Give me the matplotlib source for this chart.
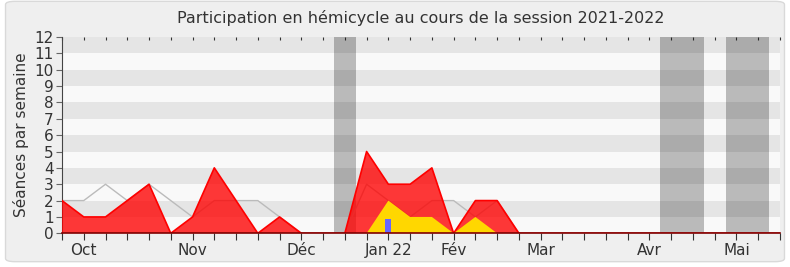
import matplotlib
matplotlib.use("Agg")
import matplotlib.pyplot as plt
import numpy as np
from matplotlib.patches import FancyBboxPatch

# Data (weekly index)
weeks = list(range(0, 34))
red = [2, 1, 1, 2, 3, 0, 1, 4, 2, 0, 1, 0, 0, 0, 5, 3, 3, 4, 0, 2, 2, 0,
       0, 0, 0, 0, 0, 0, 0, 0, 0, 0, 0, 0]
gray = [2, 2, 3, 2, 3, 2, 1, 2, 2, 2, 1, 0, 0, 0, 3, 2, 1, 2, 2, 1, 2, 0,
        0, 0, 0, 0, 0, 0, 0, 0, 0, 0, 0, 0]
yellow = [0, 0, 0, 0, 0, 0, 0, 0, 0, 0, 0, 0, 0, 0, 0, 2, 1, 1, 0, 1, 0, 0,
          0, 0, 0, 0, 0, 0, 0, 0, 0, 0, 0, 0]
blue_weeks = [15]
blue_vals = [0.85]
vacations = [(12.5, 13.5), (27.5, 29.5), (30.5, 32.5)]
month_pos = [1, 6, 11, 15, 18, 22, 27, 31]
month_labels = ["Oct", "Nov", "Déc", "Jan 22", "Fév", "Mar", "Avr", "Mai"]

fig = plt.figure(figsize=(7.9, 2.67), dpi=100)
fig.patch.set_facecolor("white")
bg = FancyBboxPatch((0.007, 0.02), 0.986, 0.975, boxstyle="round,pad=0,rounding_size=0.012",
                    transform=fig.transFigure, facecolor="#efefef", edgecolor="#d9d9d9",
                    linewidth=1, zorder=-10)
fig.patches.append(bg)

ax = fig.add_axes([62 / 790, 1 - 233.3 / 267, (780 - 62) / 790, (233.3 - 37) / 267])
ax.set_facecolor("#f9f9f9")
ax.set_xlim(0, 33)
ax.set_ylim(0, 12)

for i in range(12):
    if i % 2 == 1:
        ax.axhspan(i, i + 1, color="#e5e5e5", zorder=0, linewidth=0)

for a, b in vacations:
    ax.axvspan(a, b, color="black", alpha=0.25, zorder=1, linewidth=0)

ax.plot(weeks, gray, color="#bbbbbb", linewidth=1, zorder=2)
ax.fill_between(weeks, red, 0, facecolor="#ff0000", alpha=0.78, linewidth=0, zorder=3)
ax.plot(weeks, red, color="#ff0000", linewidth=1.2, zorder=4)
ax.fill_between(weeks, yellow, 0, facecolor="#ffd700", linewidth=0, zorder=5)
ax.bar(blue_weeks, blue_vals, width=0.27, color="#6666ff", zorder=6)

for s in ["top", "right"]:
    ax.spines[s].set_visible(False)
ax.spines["left"].set_color("#444444")
ax.spines["bottom"].set_color("#800000")
ax.spines["bottom"].set_linewidth(1.2)
ax.spines["bottom"].set_zorder(7)

ax.set_yticks(range(0, 13))
labels = [""] * 34
for p, l in zip(month_pos, month_labels):
    labels[p] = l
ax.set_xticks(weeks)
ax.set_xticklabels(labels)
ax.tick_params(axis="x", direction="out", length=5, color="#333333",
               labelsize=11, labelcolor="#333333", pad=2)
ax.tick_params(axis="y", direction="out", length=4, color="#666666", labelsize=11,
               labelcolor="#333333", pad=2)

top = ax.secondary_xaxis("top")
top.set_xticks(weeks)
top.set_xticklabels([])
top.tick_params(axis="x", which="both", direction="in", length=2, color="#333333")
top.spines["top"].set_visible(False)

ax.set_ylabel("Séances par semaine", fontsize=11, color="#333333", labelpad=4)
ax.set_title("Participation en hémicycle au cours de la session 2021-2022",
             fontsize=11.5, color="#333333", pad=10)

fig.savefig("out.png", dpi=100, facecolor=fig.get_facecolor())
